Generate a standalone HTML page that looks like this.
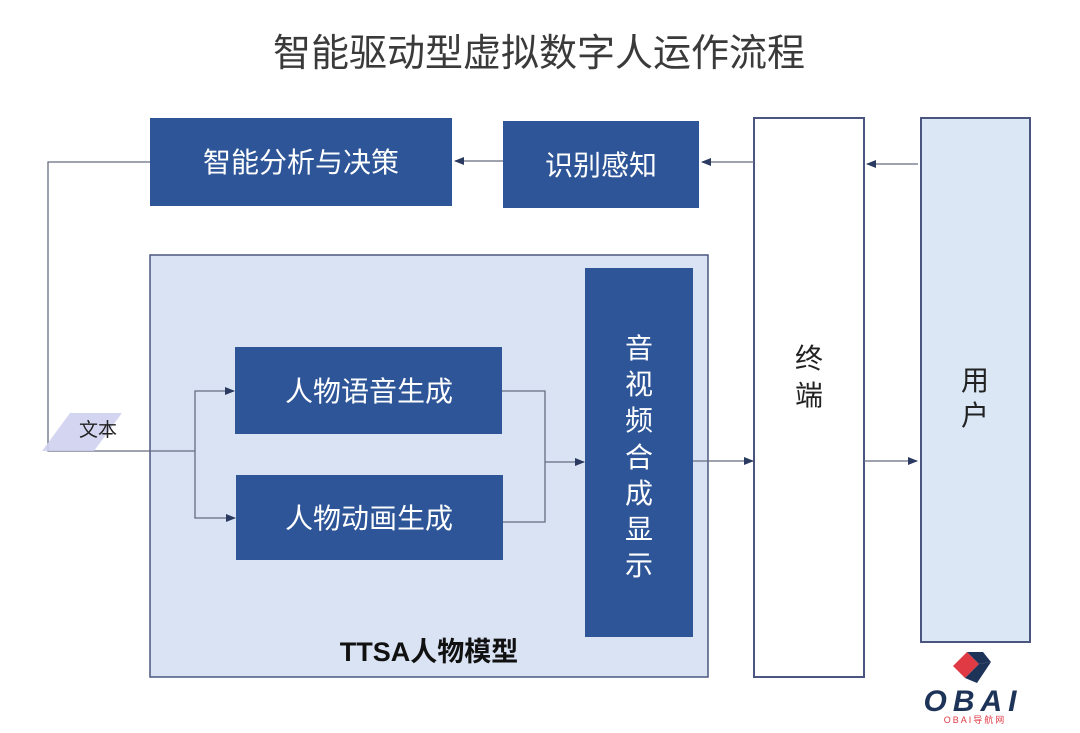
<!DOCTYPE html>
<html><head><meta charset="utf-8"><style>
html,body{margin:0;padding:0;background:#fff;}
svg{display:block;font-family:"Liberation Sans","Noto Sans CJK SC",sans-serif;}
</style></head><body>
<svg width="1080" height="733" viewBox="0 0 1080 733" xmlns="http://www.w3.org/2000/svg">
<defs>
<marker id="a" markerWidth="10" markerHeight="10" refX="9" refY="5" orient="auto" markerUnits="userSpaceOnUse">
<path d="M0,1 L10,5 L0,9 Z" fill="#2a3a60"/></marker>
</defs>
<text x="539" y="66" text-anchor="middle" font-size="38" fill="#3a3a3a">智能驱动型虚拟数字人运作流程</text>

<rect x="150" y="118" width="302" height="88" fill="#2d5597"/>
<text x="301" y="172" text-anchor="middle" font-size="28" fill="#fff">智能分析与决策</text>
<rect x="503" y="121" width="196" height="87" fill="#2d5597"/>
<text x="601" y="175" text-anchor="middle" font-size="28" fill="#fff">识别感知</text>

<rect x="150" y="255" width="558" height="422" fill="#d9e3f3" stroke="#4b5680" stroke-width="1.5"/>

<rect x="754" y="118" width="110" height="559" fill="#fff" stroke="#4b5680" stroke-width="2"/>
<text x="809" y="368" text-anchor="middle" font-size="28" fill="#222">终</text>
<text x="809" y="405" text-anchor="middle" font-size="28" fill="#222">端</text>
<rect x="921" y="118" width="109" height="524" fill="#dbe7f5" stroke="#4b5680" stroke-width="2"/>
<text x="975" y="390" text-anchor="middle" font-size="28" fill="#222">用</text>
<text x="975" y="425" text-anchor="middle" font-size="28" fill="#222">户</text>

<rect x="235" y="347" width="267" height="87" fill="#2d5597"/>
<text x="369" y="401" text-anchor="middle" font-size="28" fill="#fff">人物语音生成</text>
<rect x="236" y="475" width="267" height="85" fill="#2d5597"/>
<text x="369" y="528" text-anchor="middle" font-size="28" fill="#fff">人物动画生成</text>
<rect x="585" y="268" width="108" height="369" fill="#2d5597"/>
<g font-size="28" fill="#fff" text-anchor="middle">
<text x="639" y="358">音</text><text x="639" y="394">视</text><text x="639" y="430">频</text>
<text x="639" y="467">合</text><text x="639" y="503">成</text><text x="639" y="539">显</text><text x="639" y="575">示</text>
</g>
<text x="429" y="661" text-anchor="middle" font-size="27" font-weight="bold" fill="#111">TTSA人物模型</text>

<g stroke="#666c80" stroke-width="1.3" fill="none">
<line x1="754" y1="162" x2="702" y2="162" marker-end="url(#a)"/>
<line x1="503" y1="161" x2="455" y2="161" marker-end="url(#a)"/>
<line x1="918" y1="164" x2="867" y2="164" marker-end="url(#a)"/>
<polyline points="150,162 48,162 48,451 195,451"/>
<polyline points="195,451 195,391 234,391" marker-end="url(#a)"/>
<polyline points="195,451 195,518 235,518" marker-end="url(#a)"/>
<polyline points="502,391 545,391 545,522 503,522"/>
<line x1="545" y1="462" x2="584" y2="462" marker-end="url(#a)"/>
<line x1="693" y1="461" x2="753" y2="461" marker-end="url(#a)"/>
<line x1="864" y1="461" x2="917" y2="461" marker-end="url(#a)"/>
</g>
<polygon points="70,413 122,413 94,451 42,451" fill="#cfd0ef" opacity="0.9"/>
<text x="98" y="436" text-anchor="middle" font-size="19" fill="#222">文本</text>

<g transform="translate(953,650)">
<polygon points="0,16 14,2 26,14 12,28" fill="#e03a44"/>
<polygon points="14,2 30,2 38,12 26,14" fill="#1e3358"/>
<polygon points="26,14 38,12 24,33 12,28" fill="#1e3358"/>
</g>
<text x="973" y="711" text-anchor="middle" font-size="30" font-weight="bold" font-style="italic" fill="#1e3358" letter-spacing="6">OBAI</text>
<text x="975" y="723" text-anchor="middle" font-size="9" fill="#e03a44" letter-spacing="2">OBAI导航网</text>
</svg>
</body></html>
